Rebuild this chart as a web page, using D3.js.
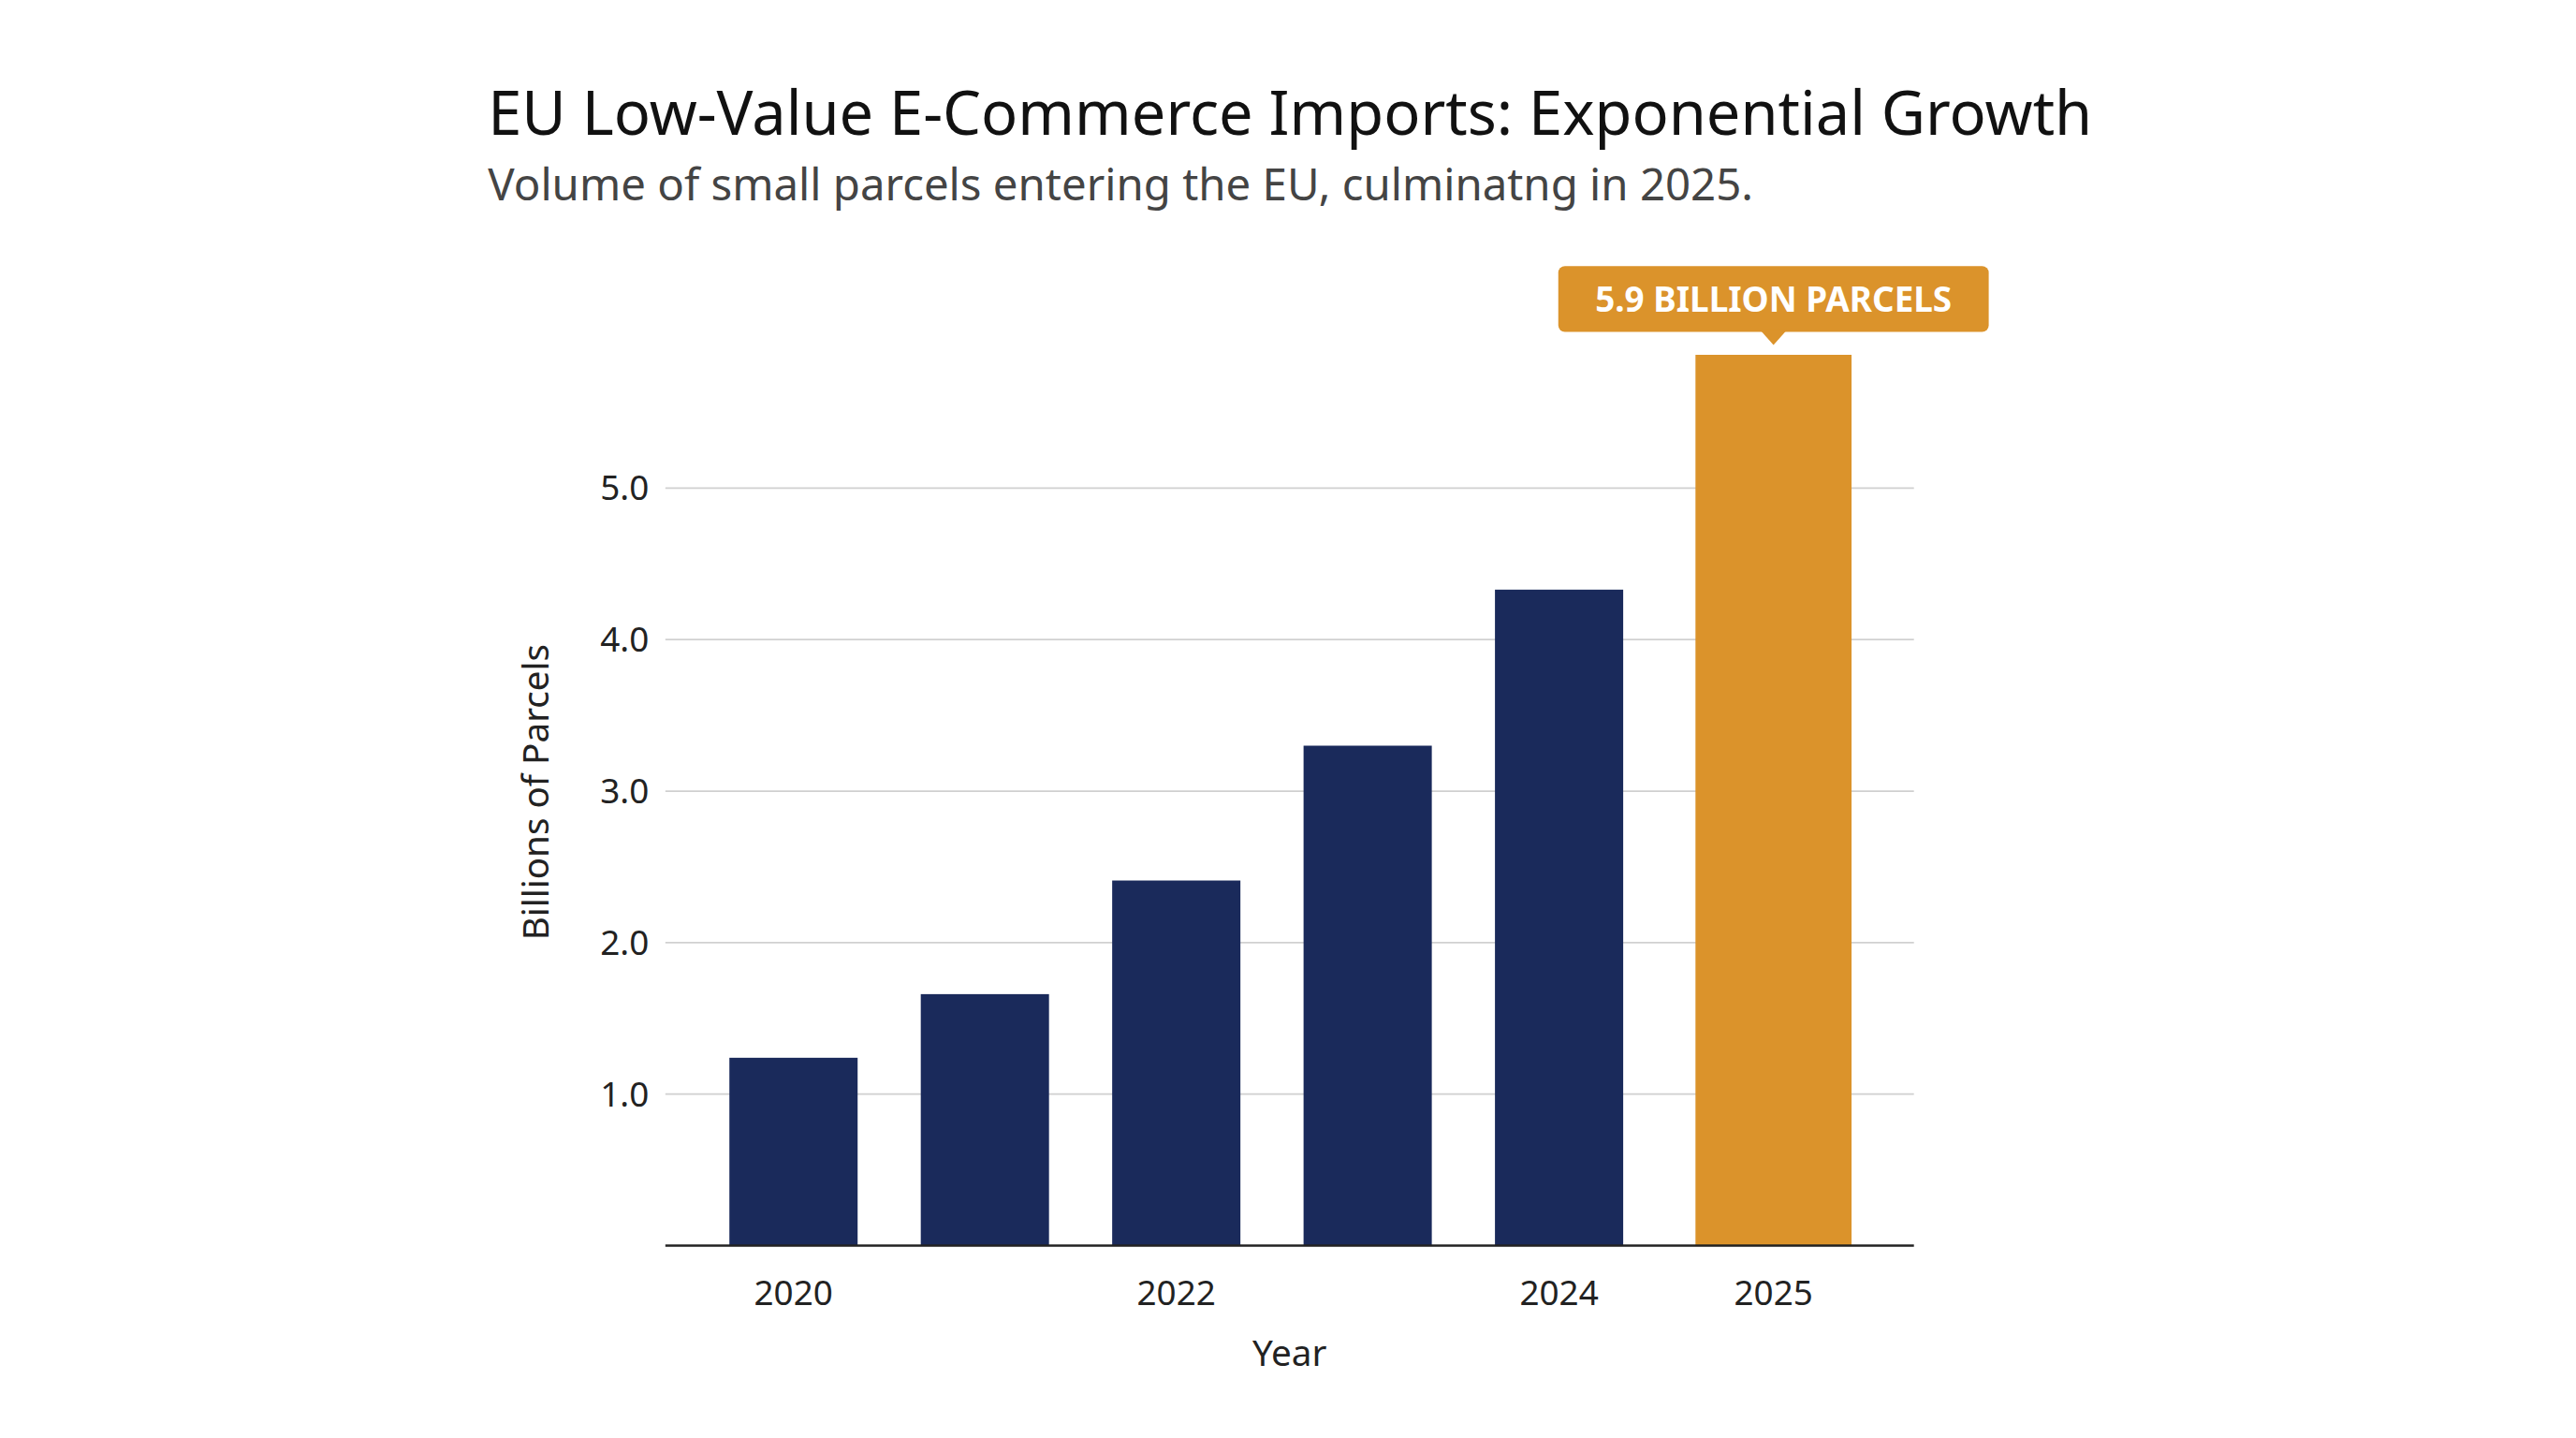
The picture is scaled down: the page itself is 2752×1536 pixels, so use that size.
<!DOCTYPE html>
<html><head><meta charset="utf-8">
<script src="https://cdn.jsdelivr.net/npm/d3@7"></script>
<style>html,body{margin:0;padding:0;background:#fff;}svg{display:block;}</style>
</head><body>
<svg id="c" width="2752" height="1536" viewBox="0 0 1568 875"></svg>
<script>
const years = ["2020","2021","2022","2023","2024","2025"];
const values = [1.24, 1.66, 2.41, 3.30, 4.33, 5.88];
const yTicks = [1.0, 2.0, 3.0, 4.0, 5.0];
const xTickLabels = ["2020","2022","2024","2025"];
const highlightYear = "2025";
const annotation = "5.9 BILLION PARCELS";

const svg = d3.select("#c");
const font = "'Noto Sans', 'Open Sans', sans-serif";
const navy = "#1a2a5b", orange = "#db932b";
const left = 405, right = 1165, bottom = 758;

const y = d3.scaleLinear().domain([0, 5]).range([bottom, 297]);
const base = years.filter(d => d !== highlightYear);
const x = d3.scaleBand().domain(base).range([424.75, 1007.25]).paddingInner(0.33).paddingOuter(0.165);
const hlX = x(base[base.length-1]) + x.bandwidth() + 44, hlW = 95;
const bx = d => d === highlightYear ? hlX : x(d);
const bw = d => d === highlightYear ? hlW : x.bandwidth();

svg.append("text").attr("x", 297).attr("y", 82).attr("font-family", font).attr("font-size", 37).attr("fill", "#111").text("EU Low-Value E-Commerce Imports: Exponential Growth");
svg.append("text").attr("x", 297).attr("y", 122).attr("font-family", font).attr("font-size", 27).attr("fill", "#444").text("Volume of small parcels entering the EU, culminatng in 2025.");

const g = svg.append("g");
g.selectAll(".grid").data(yTicks).join("line").attr("x1", left).attr("x2", right)
  .attr("y1", d => y(d)).attr("y2", d => y(d)).attr("stroke", "#d0d0d0").attr("stroke-width", 1);
g.selectAll(".yt").data(yTicks).join("text").attr("x", 395).attr("y", d => y(d)).attr("dy", "0.35em")
  .attr("text-anchor", "end").attr("font-family", font).attr("font-size", 21).attr("fill", "#222").text(d => d.toFixed(1));

g.selectAll(".bar").data(years).join("rect")
  .attr("x", d => bx(d)).attr("width", d => bw(d))
  .attr("y", (d,i) => y(values[i])).attr("height", (d,i) => bottom - y(values[i]))
  .attr("fill", d => d === highlightYear ? orange : navy);

g.append("line").attr("x1", left).attr("x2", right).attr("y1", bottom).attr("y2", bottom).attr("stroke", "#222").attr("stroke-width", 1.3);

g.selectAll(".xt").data(xTickLabels).join("text").attr("x", d => bx(d) + bw(d)/2).attr("y", 794)
  .attr("text-anchor", "middle").attr("font-family", font).attr("font-size", 21).attr("fill", "#222").text(d => d);

svg.append("text").attr("x", 785).attr("y", 831).attr("text-anchor", "middle").attr("font-family", font).attr("font-size", 22).attr("fill", "#222").text("Year");
svg.append("text").attr("transform", "translate(334,482) rotate(-90)").attr("text-anchor", "middle").attr("font-family", font).attr("font-size", 22).attr("fill", "#222").text("Billions of Parcels");

const hi = years.indexOf(highlightYear);
const cx = bx(highlightYear) + hlW/2, barTop = y(values[hi]);
const ag = svg.append("g");
ag.append("rect").attr("x", cx - 131).attr("y", barTop - 54).attr("width", 262).attr("height", 40).attr("rx", 4).attr("fill", orange);
ag.append("path").attr("d", `M${cx-8},${barTop-15}L${cx+8},${barTop-15}L${cx},${barTop-6}Z`).attr("fill", orange);
ag.append("text").attr("x", cx).attr("y", barTop - 34).attr("dy", "0.36em").attr("text-anchor", "middle").attr("font-family", font)
  .attr("font-weight", "bold").attr("font-size", 21).attr("fill", "#fff").text(annotation);
</script>
</body></html>
